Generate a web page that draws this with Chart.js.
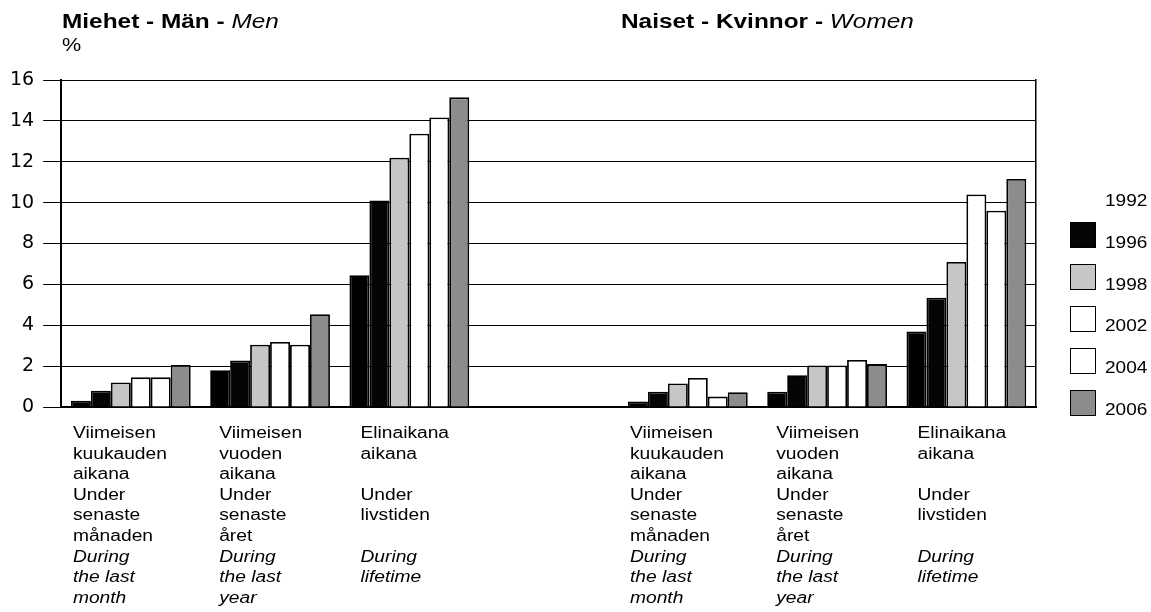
<!DOCTYPE html>
<html>
<head>
<meta charset="utf-8">
<script src="https://cdn.jsdelivr.net/npm/chart.js@4.4.0/dist/chart.umd.min.js"></script>
<style>
  body { margin: 0; background: #fff; font-family: "Liberation Sans", Arial, sans-serif; color: #000; }
  #wrap { position: relative; width: 1151px; height: 612px; }
  canvas { position: absolute; left: 0; top: 0; }
  .title { position: absolute; top: 11px; font-size: 20px; line-height: 20px; font-weight: bold;
           white-space: nowrap; transform: scaleX(1.22); transform-origin: left; }
  .title i { font-weight: normal; }
  .unit { position: absolute; left: 62px; top: 36px; font-size: 18px; line-height: 18px;
          transform: scaleX(1.2); transform-origin: left; }
  .lg-box { position: absolute; left: 1070px; width: 24px; height: 24px; border: 1.5px solid #000; }
  .lg-text { position: absolute; left: 1105px; font-family: "Liberation Sans", Arial, sans-serif;
             font-size: 17px; line-height: 18px; transform: scaleX(1.12); transform-origin: left; }
</style>
</head>
<body>
<div id="wrap">
  <canvas id="chart" width="1151" height="612"></canvas>
  <div class="title" style="left:62px">Miehet - Män - <i>Men</i></div>
  <div class="title" style="left:621px">Naiset - Kvinnor - <i>Women</i></div>
  <div class="unit">%</div>
  <div id="legend"></div>
</div>
<script>
// label lines per period: 0-2 Finnish, 3-5 Swedish, 6-8 English (italic)
const periods = [
    ['Viimeisen', 'kuukauden', 'aikana', 'Under', 'senaste', 'månaden', 'During', 'the last', 'month'],
    ['Viimeisen', 'vuoden', 'aikana', 'Under', 'senaste', 'året', 'During', 'the last', 'year'],
    ['Elinaikana', 'aikana', '', 'Under', 'livstiden', '', 'During', 'lifetime', '']
];
// men x3, gap, women x3
const categories = [0, 1, 2, null, 0, 1, 2];

const years = ['1992', '1996', '1998', '2002', '2004', '2006'];
const v1992 = [0.3, 1.8, 6.45, null, 0.27, 0.75, 3.7];
const v1996 = [0.8, 2.27, 10.1, null, 0.75, 1.55, 5.35];
const v1998 = [1.2, 3.05, 12.2, null, 1.15, 2.03, 7.1];
const v2002 = [1.45, 3.18, 13.37, null, 1.42, 2.03, 10.4];
const v2004 = [1.45, 3.05, 14.17, null, 0.51, 2.3, 9.6];
const v2006 = [2.06, 4.54, 15.15, null, 0.72, 2.1, 11.16];
const yTicks = [0, 2, 4, 6, 8, 10, 12, 14, 16];

const values = [v1992, v1996, v1998, v2002, v2004, v2006];
const fills = ['#000000', '#050505', '#c6c6c6', '#ffffff', '#ffffff', '#8c8c8c'];
const labelShift = [2, 9, 11];

const periodLabels = {
    id: 'periodLabels',
    afterDraw(chart) {
        const ctx = chart.ctx;
        const x = chart.scales.x;
        const groupW = x.width / categories.length * 0.86;
        ctx.save();
        ctx.fillStyle = '#000';
        ctx.textBaseline = 'alphabetic';
        categories.forEach((p, i) => {
            if (p === null) return;
            const left = x.getPixelForValue(i) - groupW / 2 + labelShift[p];
            periods[p].forEach((line, j) => {
                ctx.font = (j >= 6 ? 'italic ' : '') + '16px "Liberation Sans", Arial, sans-serif';
                ctx.save();
                ctx.translate(left, chart.chartArea.bottom + 31 + j * 20.6);
                ctx.scale(1.2, 1);
                ctx.fillText(line, 0, 0);
                ctx.restore();
            });
        });
        ctx.restore();
    }
};

new Chart(document.getElementById('chart'), {
    type: 'bar',
    data: {
        labels: categories.map(p => p === null ? '' : periods[p][0]),
        datasets: years.map((y, k) => ({
            label: y,
            data: values[k],
            backgroundColor: fills[k],
            borderColor: '#000',
            borderWidth: 1.8
        }))
    },
    options: {
        responsive: false,
        animation: false,
        layout: { padding: { left: 1, right: 107, top: 80, bottom: 197 } },
        datasets: { bar: { categoryPercentage: 0.86, barPercentage: 1 } },
        plugins: { legend: { display: false }, tooltip: { enabled: false } },
        scales: {
            x: {
                grid: { display: false },
                ticks: { display: false },
                border: { color: '#000', width: 2 }
            },
            y: {
                min: yTicks[0],
                max: yTicks[yTicks.length - 1],
                afterBuildTicks: axis => { axis.ticks = yTicks.map(v => ({ value: v })); },
                ticks: { color: '#000', padding: 9, font: { family: 'DejaVu Sans', size: 19 } },
                grid: { color: '#000', lineWidth: 1, tickLength: 18, tickColor: '#000' },
                border: { color: '#000', width: 2 }
            },
            yR: {
                position: 'right',
                min: 0,
                max: 16,
                ticks: { display: false },
                grid: { display: false },
                border: { color: '#000', width: 1.5 }
            }
        }
    },
    plugins: [periodLabels]
});

// legend on the right, 1992 has no swatch in the original
const legend = document.getElementById('legend');
years.forEach((y, k) => {
    const base = 207.5 + k * 41.8;
    if (k > 0) {
        const box = document.createElement('div');
        box.className = 'lg-box';
        box.style.top = (base - 27) + 'px';
        box.style.background = fills[k];
        legend.appendChild(box);
    }
    const t = document.createElement('div');
    t.className = 'lg-text';
    t.style.top = (base - 15.5) + 'px';
    t.textContent = y;
    legend.appendChild(t);
});
</script>
</body>
</html>
